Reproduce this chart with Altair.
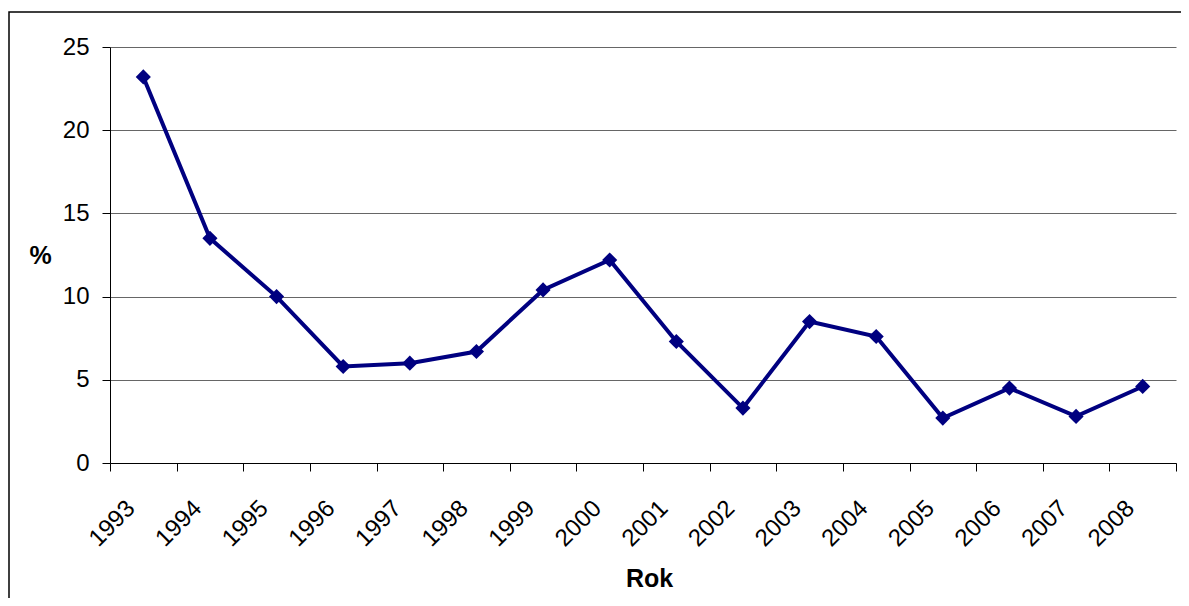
import altair as alt
import pandas as pd

years = ["1993", "1994", "1995", "1996", "1997", "1998", "1999", "2000",
         "2001", "2002", "2003", "2004", "2005", "2006", "2007", "2008"]
values = [23.2, 13.5, 10.0, 5.8, 6.0, 6.7, 10.4, 12.2,
          7.3, 3.3, 8.5, 7.6, 2.7, 4.5, 2.8, 4.6]
y_ticks = [0, 5, 10, 15, 20, 25]

df = pd.DataFrame({"year": years, "value": values})

FONT = "Liberation Sans"
W, H = 1066, 416

x_enc = alt.X(
    "year:O",
    sort=years,
    scale=alt.Scale(type="band", paddingInner=0, paddingOuter=0),
    axis=alt.Axis(
        title="Rok",
        labelAngle=-45,
        labelAlign="right",
        labelBaseline="top",
        labelOffset=-21,
        labelPadding=25,
        labelFontSize=24,
        labelColor="black",
        tickBand="extent",
        tickSize=8,
        tickColor="black",
        domainColor="black",
        grid=False,
        titleFontSize=25,
        titleFontWeight="bold",
        titleColor="black",
        titleX=539,
        titleY=115,
        titleAlign="center",
        titleBaseline="middle",
    ),
)
y_enc = alt.Y(
    "value:Q",
    scale=alt.Scale(domain=[0, 25], nice=False),
    axis=alt.Axis(
        values=y_ticks,
        title="%",
        titleAngle=0,
        titleX=-70,
        titleY=H / 2,
        titleAlign="center",
        titleBaseline="middle",
        titleFontSize=25,
        titleFontWeight="bold",
        titleColor="black",
        labelFontSize=24,
        labelColor="black",
        labelPadding=13,
        tickSize=8,
        tickColor="black",
        domainColor="black",
        grid=True,
        gridColor="#666666",
        gridWidth=1,
    ),
)

base = alt.Chart(df)
line = base.mark_line(color="#000080", strokeWidth=4).encode(x=x_enc, y=y_enc)
pts = base.mark_point(shape="diamond", filled=True, size=230, color="#000080", opacity=1).encode(x=x_enc, y=y_enc)

frame = alt.Chart(pd.DataFrame({"a": [0]})).mark_rect(
    fill=None, stroke="black", strokeWidth=1.5
).encode(
    x=alt.value(-101), x2=alt.value(1300),
    y=alt.value(-35), y2=alt.value(800),
)

chart = alt.layer(frame, line, pts).properties(
    width=W, height=H,
    autosize=alt.AutoSizeParams(type="none"),
    padding={"left": 102, "top": 39, "right": 5, "bottom": 135},
).configure(font=FONT).configure_view(stroke=None)

chart.save("out.html", embed_options={"renderer": "svg", "actions": False})
